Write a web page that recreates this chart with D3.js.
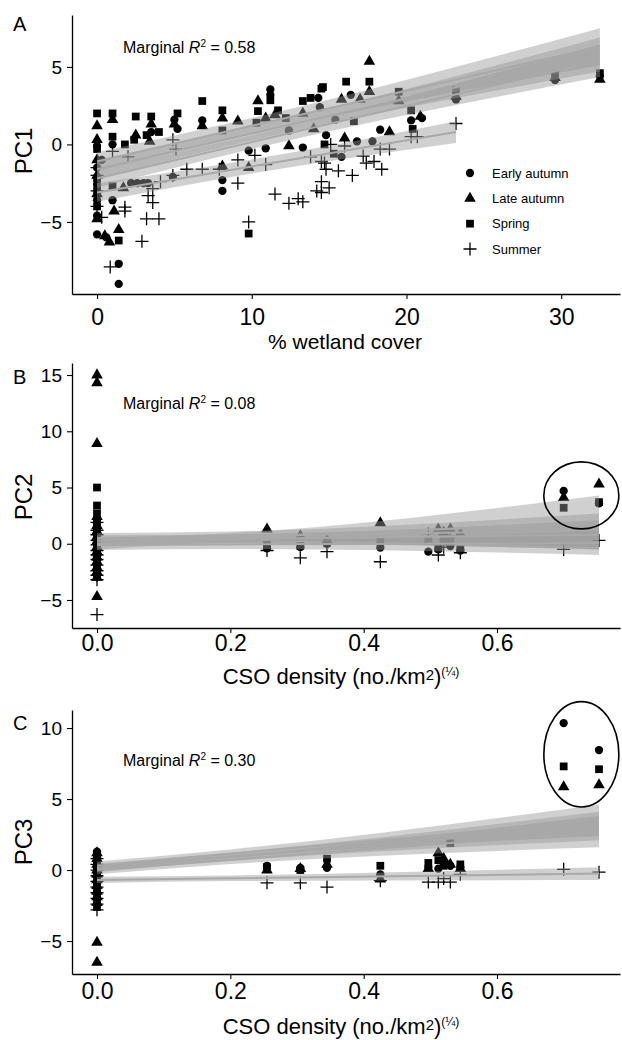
<!DOCTYPE html>
<html><head><meta charset="utf-8">
<script src="https://cdn.jsdelivr.net/npm/d3@7"></script>
<style>
body{margin:0;background:#fff}
svg text{font-family:"Liberation Sans",Arial,Helvetica,sans-serif;fill:#000}
</style>
</head><body>
<svg id="chart" width="622" height="1040"></svg>
<script>
// ---------------- DATA ----------------
const seasons = ["Early autumn", "Late autumn", "Spring", "Summer"];

// Panel A: PC1 vs % wetland cover, [x, y] per season
const pc1EarlyAutumn = [[0,-0.1],[0,-1.5],[0,-2.6],[0,-3.6],[0,-4.6],[0,-5.8],[0.3,-1.0],[1.0,0.0],[1.0,-3.6],[1.4,-7.7],[1.4,-9.0],[0.6,-6.0],[2.2,-2.5],[2.6,-2.5],[3.0,-2.5],[3.3,-2.5],[3.5,0.8],[4.9,-2.1],[5.2,1.0],[5.0,1.6],[6.8,1.55],[8.1,-2.3],[8.1,-3.0],[9.8,-0.4],[10.9,-0.25],[11.2,3.55],[11.2,3.2],[12.4,0.9],[13.3,-0.2],[14.4,2.4],[14.3,3.0],[14.8,0.6],[15.8,-0.8],[15.4,1.6],[16.4,3.2],[16.8,0.2],[17.8,0.2],[18.3,0.95],[20.3,1.55],[21.0,1.7],[23.2,2.9],[29.6,4.15],[32.5,4.4]];
const pc1LateAutumn = [[0,1.2],[0,0.3],[0,-1.0],[0,-2.0],[0,-3.2],[0,-4.8],[0.5,-5.9],[0.8,-6.3],[1.0,1.6],[1.4,-5.5],[1.7,-2.8],[1.1,-4.3],[2.5,0.6],[3.5,1.3],[3.4,0.2],[5.0,1.3],[6.8,1.2],[8.1,1.7],[8.1,-1.4],[9.1,1.5],[9.8,-1.5],[10.4,2.8],[10.9,1.7],[11.5,1.9],[12.4,-0.1],[13.3,2.0],[14.0,1.0],[15.8,2.9],[17.0,2.9],[17.6,5.35],[17.6,3.4],[18.9,0.8],[16.0,0.4],[19.5,2.8],[20.9,1.8],[23.2,3.1],[29.6,4.3],[32.5,4.2]];
const pc1Spring = [[0,2.0],[0,-0.3],[0,-2.2],[0,-3.0],[0,-4.0],[1.0,2.0],[1.0,0.5],[1.0,-2.7],[1.4,-6.2],[1.8,0.0],[2.5,1.8],[2.4,0.3],[3.5,1.8],[3.2,0.6],[4.0,0.8],[5.2,2.0],[6.8,2.8],[8.1,2.2],[8.1,0.9],[9.8,-5.75],[10.3,1.4],[10.4,2.15],[11.2,2.85],[11.7,2.2],[12.2,1.7],[13.3,2.8],[13.8,3.0],[14.6,3.7],[14.5,3.6],[14.7,0.0],[15.3,-0.6],[16.1,4.05],[17.6,4.05],[16.6,1.5],[19.5,3.4],[20.3,2.2],[20.4,1.0],[23.2,3.5],[29.6,4.5],[32.5,4.6]];
const pc1Summer = [[0,-1.5],[0,-2.0],[0,-3.0],[0,-4.0],[0.3,-4.7],[0.85,-7.9],[1.0,-0.45],[1.8,-4.05],[1.8,-4.3],[2.0,-0.8],[2.9,-6.25],[3.2,-4.8],[3.3,-3.3],[3.6,-2.85],[3.6,-3.75],[4.0,-4.8],[4.1,-2.4],[4.9,0.3],[4.9,-2.0],[5.1,-0.3],[5.8,-1.6],[6.8,-1.6],[7.9,-1.6],[9.1,-1.0],[9.1,-2.5],[9.8,-5.0],[10.2,-0.7],[10.9,-1.3],[11.5,-3.2],[13.0,-3.5],[13.3,-3.7],[13.8,-0.8],[14.7,-1.2],[14.5,-3.1],[12.4,-3.8],[14.5,-1.1],[14.8,-1.6],[15.6,-1.7],[16.5,-2.0],[14.5,-2.4],[15.0,-2.8],[14.2,-3.0],[15.1,0.0],[16.0,-0.1],[17.2,-0.75],[17.4,-1.2],[17.9,-1.1],[18.3,-0.3],[18.9,-0.3],[18.4,-1.6],[20.3,0.5],[20.7,0.5],[23.2,1.35]];

// Panel A fitted lines: x positions, fitted y, CI half-widths (order: EA, LA, Spring, Summer)
const pc1FitX = [[0,10,32.5],[0,10,32.5],[0,10,32.5],[0,10,23.2]];
const pc1FitY = [[-2.2,0.15,5.4],[-1.1,1.2,6.3],[-1.6,0.7,5.8],[-3.1,-1.42,0.8]];
const pc1FitCI = [[0.6,0.45,1.05],[0.6,0.5,1.2],[0.6,0.45,1.1],[0.6,0.45,0.7]];

// Panels B/C: CSO density of sites with CSOs (zero-CSO sites listed separately)
const csoX = [0.255,0.305,0.345,0.425,0.497,0.512,0.52,0.53,0.545,0.70,0.753];
const pc2EarlyAutumn = [-0.4,-0.3,0.0,-0.35,-0.7,-0.5,0.3,-0.2,-0.6,4.7,3.6];
const pc2LateAutumn  = [1.3,0.7,0.3,1.85,0.2,1.3,1.0,1.3,0.9,4.1,5.3];
const pc2Spring      = [-0.1,-0.2,0.1,0.2,0.3,-0.4,0.2,0.4,-0.5,3.2,3.7];
const pc2Summer      = [-0.6,-1.25,-0.7,-1.6,0.9,-1.0,-0.3,0.6,-0.8,-0.5,0.3];
const pc2ZeroEarlyAutumn = [2.2,1.8,1.4,1.0,0.7,0.4,0.2,0.0,-0.2,-0.5,-0.8,-1.1,-1.5,-1.9,-2.3,-2.7];
const pc2ZeroLateAutumn  = [15.0,14.3,8.9,2.4,1.6,1.1,0.6,0.2,-0.3,-0.7,-1.2,-1.6,-2.1,-2.5,-3.0,-4.7];
const pc2ZeroSpring      = [5.0,3.4,2.7,2.0,1.5,0.9,0.5,0.1,-0.4,-0.9,-1.3,-1.8,-2.2,-2.9];
const pc2ZeroSummer      = [1.9,1.2,0.8,0.3,-0.1,-0.6,-1.0,-1.4,-1.9,-2.4,-2.8,-3.2,-6.3];
const pc2FitX = [[0,0.2,0.753],[0,0.2,0.753],[0,0.2,0.753],[0,0.2,0.753]];
const pc2FitY = [[0.0,0.5,1.9],[0.5,0.69,1.2],[0.3,0.43,0.8],[-0.1,-0.06,0.06]];
const pc2FitCI = [[0.5,0.45,2.4],[0.45,0.4,1.5],[0.45,0.4,1.3],[0.45,0.4,1.05]];

const pc3EarlyAutumn = [0.3,0.15,0.15,-0.3,0.2,0.1,0.5,0.3,0.2,10.35,8.45];
const pc3LateAutumn  = [0.0,0.1,0.4,-0.65,0.1,1.2,0.8,0.4,0.1,5.85,6.0];
const pc3Spring      = [0.2,0.0,0.8,0.3,0.5,0.7,0.3,1.9,0.4,7.3,7.1];
const pc3Summer      = [-0.9,-0.9,-1.2,-0.75,-0.85,-0.85,-0.6,-0.85,-0.3,0.05,-0.15];
const pc3ZeroEarlyAutumn = [1.3,0.9,0.6,0.2,-0.1,-0.4,-0.8,-1.2,-1.6,-2.0,-2.4];
const pc3ZeroLateAutumn  = [1.2,0.8,0.4,0.0,-0.3,-0.7,-1.1,-1.5,-1.9,-2.3,-5.1,-6.5];
const pc3ZeroSpring      = [1.0,0.7,0.3,-0.1,-0.5,-0.9,-1.3,-1.7,-2.1,-2.6];
const pc3ZeroSummer      = [0.8,0.4,0.0,-0.4,-0.8,-1.2,-1.6,-2.0,-2.4,-2.8];
const pc3FitX = [[0,0.2,0.753],[0,0.2,0.753],[0,0.2,0.753],[0,0.2,0.753]];
const pc3FitY = [[0.3,1.15,3.5],[0.15,0.93,3.1],[0.0,0.72,2.7],[-0.7,-0.58,-0.25]];
const pc3FitCI = [[0.3,0.3,1.1],[0.3,0.3,1.0],[0.3,0.3,1.1],[0.22,0.2,0.45]];

// Tick values and texts
const pc1XTicks = [0,10,20,30];
const pc1YTicks = [-5,0,5];
const csoXTicks = [0,0.2,0.4,0.6];
const pc2YTicks = [-5,0,5,10,15];
const pc3YTicks = [-5,0,5,10];
const r2Values = ["0.58","0.08","0.30"];
const panelLetters = ["A","B","C"];
// Highlight ellipses [cx, cy, rx, ry] in data units
const pc2Ellipse = [0.7265,4.3,0.05625,2.98];
const pc3Ellipse = [0.7265,8.15,0.05625,3.71];

// ---------------- DRAW ----------------
const svg = d3.select("#chart");
const symbolOf = {"Early autumn": d3.symbolCircle, "Late autumn": d3.symbolTriangle, "Spring": d3.symbolSquare};
const sizeOf = {"Early autumn": 54, "Late autumn": 58, "Spring": 60};

function drawPoint(g, season, px, py) {
  if (season === "Summer") {
    g.append("path").attr("d", `M${px-6.5},${py}H${px+6.5}M${px},${py-6.5}V${py+6.5}`)
      .attr("stroke", "#000").attr("stroke-width", 1.3).attr("fill", "none");
  } else {
    g.append("path").attr("transform", `translate(${px},${py})`)
      .attr("d", d3.symbol(symbolOf[season], sizeOf[season])()).attr("fill", "#000");
  }
}

function panel(cfg) {
  const x = d3.scaleLinear().domain(cfg.xDomain).range([72, 620]);
  const y = d3.scaleLinear().domain(cfg.yDomain).range([cfg.bottom, cfg.top]);
  const g = svg.append("g");

  // points
  const pg = g.append("g");
  cfg.points.forEach((pts, i) => pts.forEach(p => drawPoint(pg, seasons[i], x(p[0]), y(p[1]))));

  // ribbons
  const area = d3.area().x(d => x(d.x)).y0(d => y(d.y - d.c)).y1(d => y(d.y + d.c)).curve(d3.curveMonotoneX);
  const line = d3.line().x(d => x(d.x)).y(d => y(d.y));
  const fits = cfg.fitX.map((xs, i) => xs.map((xv, j) => ({x: xv, y: cfg.fitY[i][j], c: cfg.fitCI[i][j]})));
  fits.forEach(f => g.append("path").attr("d", area(f)).attr("fill", "#969696").attr("fill-opacity", 0.45));
  fits.forEach(f => g.append("path").attr("d", line(f)).attr("fill", "none").attr("stroke", "#a9a9a9").attr("stroke-width", 2));

  // ellipse
  if (cfg.ellipse) {
    const e = cfg.ellipse;
    g.append("ellipse").attr("cx", x(e[0])).attr("cy", y(e[1]))
      .attr("rx", x(e[0] + e[2]) - x(e[0])).attr("ry", y(e[1]) - y(e[1] + e[3]))
      .attr("fill", "none").attr("stroke", "#000").attr("stroke-width", 1.6);
  }

  // axes
  const ax = g.append("g").attr("transform", `translate(72,0)`)
    .call(d3.axisLeft(y).tickValues(cfg.yTicks).tickSize(5).tickSizeOuter(0).tickPadding(5));
  ax.selectAll("text").attr("font-size", 19).attr("fill", "#111");
  const bx = g.append("g").attr("transform", `translate(0,${cfg.bottom})`)
    .call(d3.axisBottom(x).tickValues(cfg.xTicks).tickSize(5).tickSizeOuter(0).tickFormat(cfg.xFormat));
  bx.selectAll("text").attr("font-size", 23).attr("fill", "#111").attr("y", cfg.xLabelOffset).attr("dy", 0);
  [ax, bx].forEach(a => {
    a.select(".domain").attr("stroke", "#000").attr("stroke-width", 1.3);
    a.selectAll(".tick line").attr("stroke", "#000").attr("stroke-width", 1.1);
  });

  // y title
  g.append("text").attr("transform", `translate(32,${cfg.yTitleY}) rotate(-90)`)
    .attr("text-anchor", "middle").attr("font-size", 24).text(cfg.yTitle);
  // panel letter
  g.append("text").attr("x", 13).attr("y", cfg.letterY).attr("font-size", 20).text(cfg.letter);
  // marginal R2
  const t = g.append("text").attr("x", 123).attr("y", cfg.r2Y).attr("font-size", 16);
  t.append("tspan").text("Marginal ");
  t.append("tspan").attr("font-style", "italic").text("R");
  t.append("tspan").attr("font-size", 10).attr("dy", -6).text("2");
  t.append("tspan").attr("dy", 6).text(" = " + cfg.r2);
  // x title
  const xt = g.append("text").attr("x", cfg.xTitleX).attr("y", cfg.xTitleY).attr("text-anchor", "middle").attr("font-size", 21);
  if (cfg.cso) {
    xt.attr("font-size", 22);
    xt.append("tspan").text("CSO density (no./km");
    xt.append("tspan").attr("font-size", 15).attr("dy", -4).text("2");
    xt.append("tspan").attr("dy", 4).text(")");
    xt.append("tspan").attr("font-size", 12).attr("dy", -8).text("(¼)");
  } else {
    xt.text("% wetland cover");
  }
  return {x, y, g};
}

// Panel A
panel({
  xDomain: [-1.62, 33.8], yDomain: [-9.65, 8.35], top: 15, bottom: 294,
  points: [pc1EarlyAutumn, pc1LateAutumn, pc1Spring, pc1Summer],
  fitX: pc1FitX, fitY: pc1FitY, fitCI: pc1FitCI,
  yTicks: pc1YTicks, xTicks: pc1XTicks, xFormat: d3.format("d"), xLabelOffset: 31,
  yTitle: "PC1", yTitleY: 151, letter: panelLetters[0], letterY: 31, r2: r2Values[0], r2Y: 53,
  xTitleX: 345, xTitleY: 349, cso: false
});

function csoPoints(vals, zeros) {
  return csoX.map((xv, i) => [xv, vals[i]]).concat(zeros.map(v => [0, v]));
}
panel({
  xDomain: [-0.0375, 0.7845], yDomain: [-7.49, 16.07], top: 363, bottom: 628,
  points: [csoPoints(pc2EarlyAutumn, pc2ZeroEarlyAutumn), csoPoints(pc2LateAutumn, pc2ZeroLateAutumn),
           csoPoints(pc2Spring, pc2ZeroSpring), csoPoints(pc2Summer, pc2ZeroSummer)],
  fitX: pc2FitX, fitY: pc2FitY, fitCI: pc2FitCI, ellipse: pc2Ellipse,
  yTicks: pc2YTicks, xTicks: csoXTicks, xFormat: d3.format(".1f"), xLabelOffset: 23,
  yTitle: "PC2", yTitleY: 497, letter: panelLetters[1], letterY: 384, r2: r2Values[1], r2Y: 409,
  xTitleX: 341, xTitleY: 684, cso: true
});
panel({
  xDomain: [-0.0375, 0.7845], yDomain: [-7.32, 11.27], top: 710, bottom: 974,
  points: [csoPoints(pc3EarlyAutumn, pc3ZeroEarlyAutumn), csoPoints(pc3LateAutumn, pc3ZeroLateAutumn),
           csoPoints(pc3Spring, pc3ZeroSpring), csoPoints(pc3Summer, pc3ZeroSummer)],
  fitX: pc3FitX, fitY: pc3FitY, fitCI: pc3FitCI, ellipse: pc3Ellipse,
  yTicks: pc3YTicks, xTicks: csoXTicks, xFormat: d3.format(".1f"), xLabelOffset: 25,
  yTitle: "PC3", yTitleY: 842, letter: panelLetters[2], letterY: 730, r2: r2Values[2], r2Y: 766,
  xTitleX: 341, xTitleY: 1034, cso: true
});

// Legend (panel A)
const lg = svg.append("g");
const legendY = d3.scalePoint().domain(seasons).range([173, 249]);
seasons.forEach(s => {
  drawPoint(lg, s, 470, legendY(s));
  lg.append("text").attr("x", 492).attr("y", legendY(s) + 4.5).attr("font-size", 13).text(s);
});
</script>
</body></html>
